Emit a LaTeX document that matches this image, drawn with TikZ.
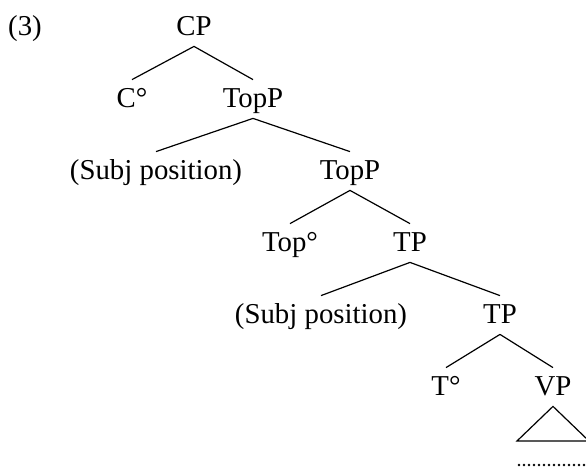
\documentclass[tikz,border=0pt]{standalone}
\usepackage{fontspec}
\setmainfont{Liberation Serif}
\begin{document}
\begin{tikzpicture}[x=0.5pt,y=-0.5pt,
  lbl/.style={anchor=base, inner xsep=0pt, inner ysep=4pt, text height=9.5pt, text depth=1.5pt, font=\fontsize{14.4}{17}\selectfont},
  edge/.style={line width=0.6pt}]
\useasboundingbox (0,0) rectangle (586,467);
\node[lbl] (ex) at (25,35) {(3)};
\node[lbl] (cp) at (194,35) {CP};
\node[lbl] (c) at (132,107) {C°};
\node[lbl] (top1) at (253,107) {TopP};
\node[lbl] (subj1) at (156,179) {(Subj position)};
\node[lbl] (top2) at (350,179) {TopP};
\node[lbl] (topo) at (290,251) {Top°};
\node[lbl] (tp1) at (410,251) {TP};
\node[lbl] (subj2) at (321,323) {(Subj position)};
\node[lbl] (tp2) at (500,323) {TP};
\node[lbl] (t) at (446,395) {T°};
\node[lbl] (vp) at (553,395) {VP};
\coordinate (tl) at (517,441);
\coordinate (tr) at (589,441);
\coordinate (dl) at (519,465);
\coordinate (dr) at (592,465);
\draw[edge] (cp.south) -- (c.north);
\draw[edge] (cp.south) -- (top1.north);
\draw[edge] (top1.south) -- (subj1.north);
\draw[edge] (top1.south) -- (top2.north);
\draw[edge] (top2.south) -- (topo.north);
\draw[edge] (top2.south) -- (tp1.north);
\draw[edge] (tp1.south) -- (subj2.north);
\draw[edge] (tp1.south) -- (tp2.north);
\draw[edge] (tp2.south) -- (t.north);
\draw[edge] (tp2.south) -- (vp.north);
\draw[edge] (vp.south) -- (tl) -- (tr) -- cycle;
\draw[line width=1.3pt, line cap=round, dash pattern=on 0pt off 2.5pt] (dl) -- (dr);
\end{tikzpicture}
\end{document}
